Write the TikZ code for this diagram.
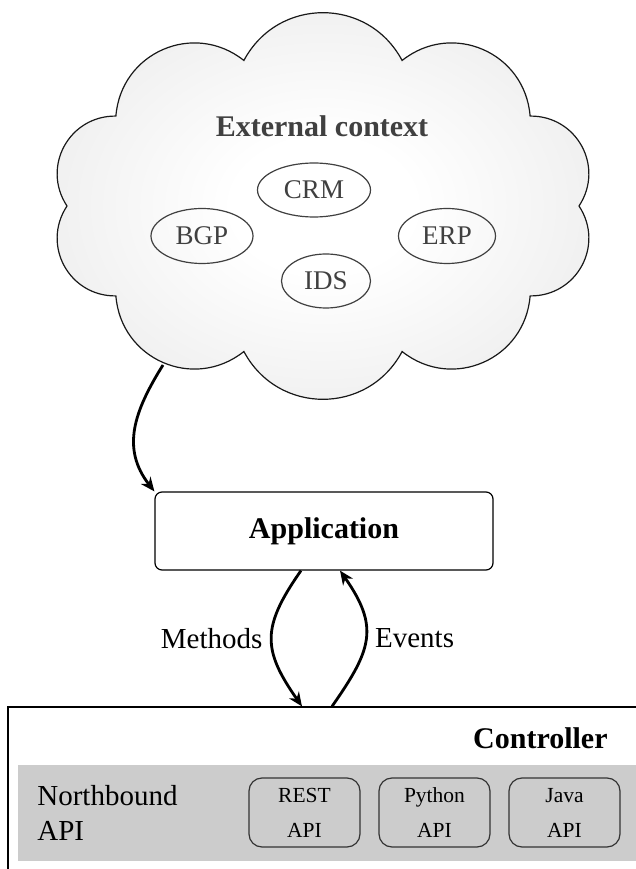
\documentclass[tikz,border=0pt]{standalone}
\usepackage{fontspec}
\setmainfont{Liberation Serif}
\usetikzlibrary{arrows.meta,shapes.geometric}
\pgfdeclareradialshading{cloudshade}{\pgfpoint{0bp}{0bp}}{color(0bp)=(white); color(8bp)=(white); color(50bp)=(black!15)}
\begin{document}
\begin{tikzpicture}[x=0.5pt,y=0.5pt,
  cloudtext/.style={text=black!75, font=\fontsize{13.5}{16}\selectfont},
  svc/.style={ellipse, draw=black!75, line width=0.6pt, inner sep=0pt, cloudtext},
  boxstyle/.style={draw=black, rounded corners=3.5pt, line width=0.6pt},
  apibox/.style={draw=black!80, rounded corners=6.5pt, line width=0.6pt,
    minimum width=55.5pt, minimum height=34.5pt, inner sep=0pt, align=center,
    font=\fontsize{10.75}{17.5}\selectfont},
  flow/.style={-{Stealth[length=7pt,width=6pt]}, line width=1.4pt},
  lbl/.style={font=\fontsize{14.5}{17.5}\selectfont}
]
\useasboundingbox (0,0) rectangle (636,869);
\clip (0,0) rectangle (636,869);

% cloud
\path[draw=black!90, line width=0.6pt, shading=cloudshade]
  (579,663) \foreach \t in {36,72,...,360} { to[bend right=62, looseness=1.17] ({323+256*cos(\t)},{663+153*sin(\t)}) } -- cycle;
\coordinate (cloudout) at (163,504);

\node[cloudtext, font=\fontsize{15}{18}\selectfont\bfseries] (ext) at (322,743) {External context};
\node[svc, minimum width=56.5pt, minimum height=27pt] (crm) at (314,679) {CRM};
\node[svc, minimum width=51pt, minimum height=27.5pt] (bgp) at (202,633) {BGP};
\node[svc, minimum width=48.5pt, minimum height=27.5pt] (erp) at (447,633) {ERP};
\node[svc, minimum width=44.5pt, minimum height=27pt] (ids) at (326,588) {IDS};

% application
\node[boxstyle, minimum width=169pt, minimum height=39pt, font=\fontsize{15}{18}\selectfont\bfseries] (app) at (324,338) {Application};

% controller
\node[draw=black, line width=0.6pt, minimum width=346pt, minimum height=106pt, inner sep=0pt] (ctrl) at (354,56) {};
\fill[gray!40] (18,8) rectangle (700,104);
\node[anchor=base east, inner sep=0pt, font=\fontsize{15}{18}\selectfont\bfseries] (ctrltitle) at (608,120) {Controller};
\node[anchor=west, inner sep=0pt, align=left, lbl] (nb) at (37,56) {Northbound\\API};
\node[apibox] (rest) at (304.5,56.5) {REST\\API};
\node[apibox] (python) at (434.5,56.5) {Python\\API};
\node[apibox] (java) at (564.5,56.5) {Java\\API};

% connectors
\draw[flow] (cloudout) to[out=238, in=128, looseness=1.1] (app.north west);
\draw[flow] ([xshift=-11.5pt]app.south) to[out=235, in=125, looseness=1.3]
  node[midway, left, inner sep=4pt, lbl] {Methods} ([xshift=-26pt]ctrl.north);
\draw[flow] ([xshift=-11pt]ctrl.north) to[out=55, in=305, looseness=1.3]
  node[midway, right, inner sep=4pt, lbl] {Events} ([xshift=8pt]app.south);
\end{tikzpicture}
\end{document}
